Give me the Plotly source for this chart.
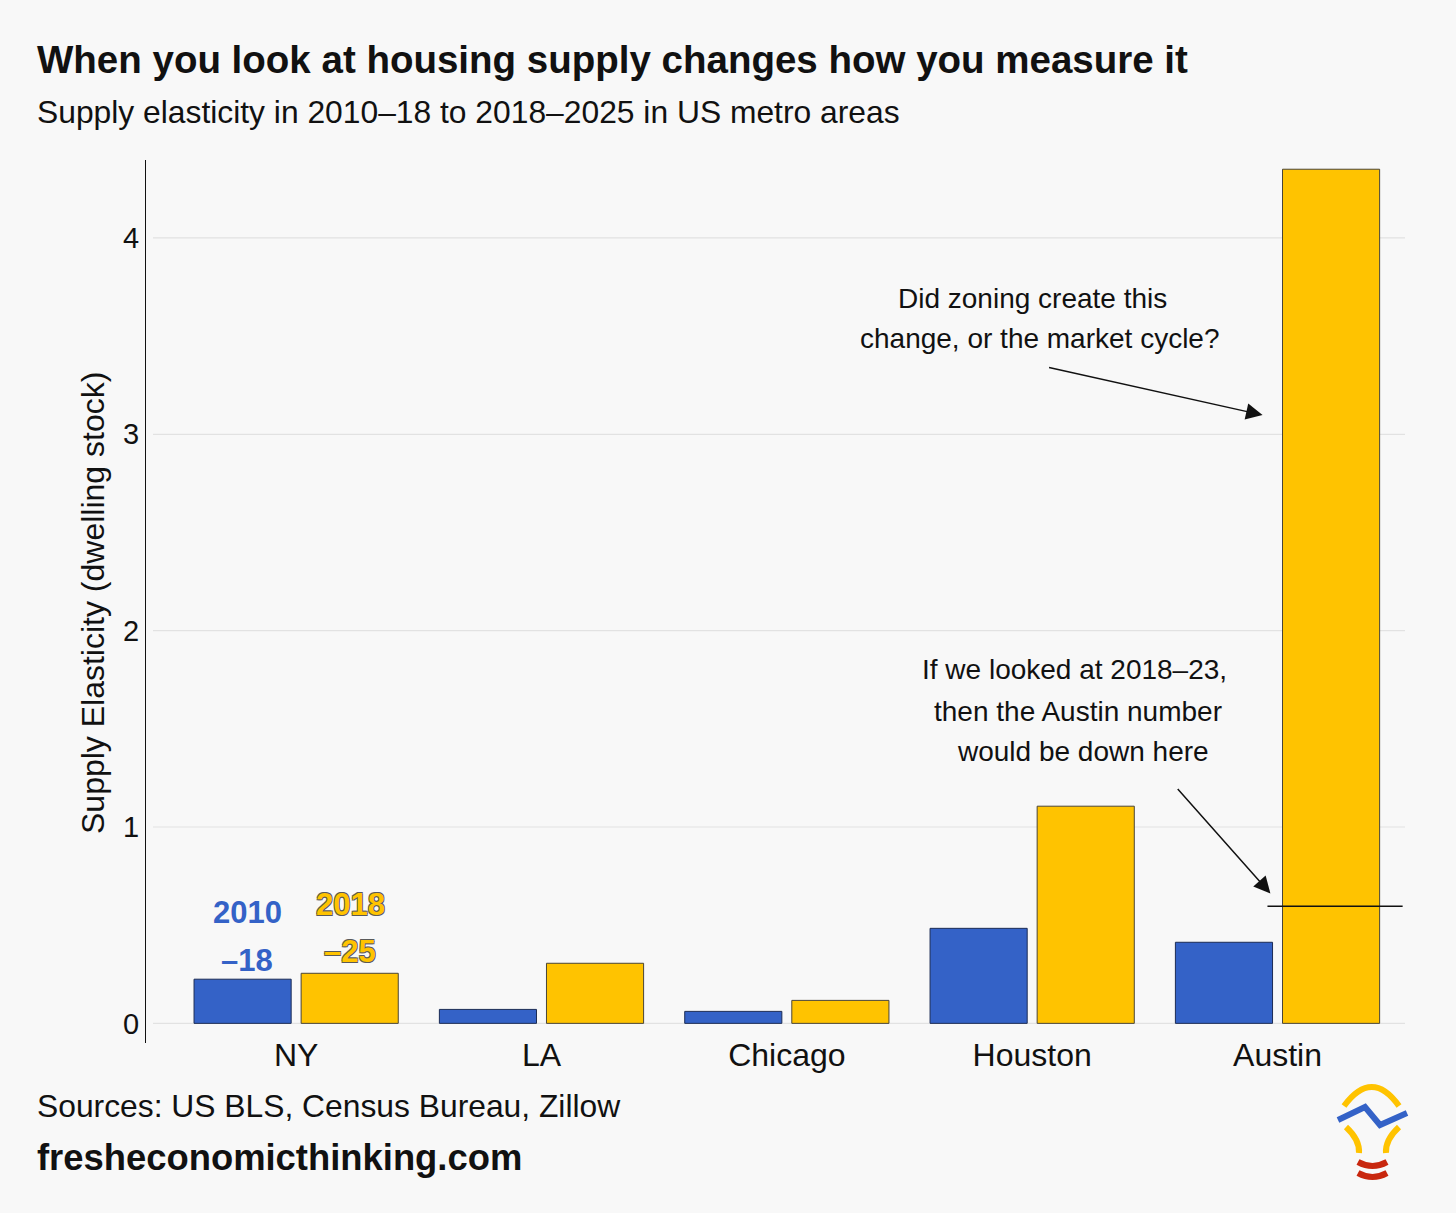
import plotly.graph_objects as go

# ---- data ----
cities = ["NY", "LA", "Chicago", "Houston", "Austin"]
elasticity_2010_18 = [0.225, 0.071, 0.061, 0.484, 0.413]
elasticity_2018_25 = [0.255, 0.306, 0.117, 1.106, 4.35]
austin_2018_23 = 0.596
y_ticks = [0, 1, 2, 3, 4]

BLUE = "#3462C7"
YELLOW = "#FFC300"
BG = "#F8F8F8"
FONT = "Liberation Sans, Arial, Helvetica, sans-serif"

W, H = 1456, 1213
L, R, T, B = 146, 1410, 160, 1043  # plot area in pixels


def px(xp):
    return (xp - L) / (R - L)


def py(yp):
    return (B - yp) / (B - T)


fig = go.Figure()
fig.add_trace(go.Bar(
    x=cities, y=elasticity_2010_18, name="2010–18",
    marker=dict(color=BLUE, line=dict(color="#1c2c55", width=1)),
))
fig.add_trace(go.Bar(
    x=cities, y=elasticity_2018_25, name="2018–25",
    marker=dict(color=YELLOW, line=dict(color="#4a4536", width=1)),
))

shapes = []
# gridlines
for v in y_ticks:
    shapes.append(dict(type="line", xref="paper", yref="y", x0=px(153), x1=px(1405),
                       y0=v, y1=v, line=dict(color="#E2E2E2", width=1.2), layer="below"))
# Austin 2018-23 marker line
shapes.append(dict(type="line", xref="x", yref="y", x0=3.959, x1=4.51,
                   y0=austin_2018_23, y1=austin_2018_23,
                   line=dict(color="#111", width=1.5), layer="above"))

# logo (lightbulb)
logo = [
    ("M {} {} Q {} {} {} {}".format(px(1344), py(1106), px(1372), py(1068), px(1399), py(1106)), YELLOW, 6),
    ("M {} {} Q {} {} {} {}".format(px(1346), py(1127), px(1360), py(1140), px(1359), py(1153)), YELLOW, 6),
    ("M {} {} Q {} {} {} {}".format(px(1399), py(1127), px(1385), py(1140), px(1386), py(1153)), YELLOW, 6),
    ("M {} {} L {} {} L {} {} L {} {}".format(px(1338), py(1120), px(1365), py(1107),
                                             px(1380), py(1125), px(1407), py(1113)), BLUE, 6),
    ("M {} {} Q {} {} {} {}".format(px(1358), py(1162), px(1372.5), py(1170), px(1387), py(1162)), "#C8270E", 6),
    ("M {} {} Q {} {} {} {}".format(px(1358), py(1173), px(1372.5), py(1181), px(1387), py(1173)), "#C8270E", 6),
]
for path, col, w in logo:
    shapes.append(dict(type="path", xref="paper", yref="paper", path=path,
                       line=dict(color=col, width=w), layer="above"))

ann = []


def text(t, x, y, size, color="#111", xanchor="left", bold=False, xref="paper", yref="paper",
         shadow=None, angle=0):
    f = dict(family=FONT, size=size, color=color)
    if bold:
        f["weight"] = 700
    if shadow:
        f["shadow"] = shadow
    ann.append(dict(text=t, x=x, y=y, xref=xref, yref=yref, xanchor=xanchor, yanchor="middle",
                    showarrow=False, font=f, textangle=angle))


text("When you look at housing supply changes how you measure it", px(35), py(60), 38.5, bold=True)
text("Supply elasticity in 2010–18 to 2018–2025 in US metro areas", px(35), py(112), 31.8)
text("Sources: US BLS, Census Bureau, Zillow", px(35), py(1106), 31.8)
text("fresheconomicthinking.com", px(35), py(1157), 36.4, bold=True)
text("Supply Elasticity (dwelling stock)", px(93), py(603), 32, xanchor="center", angle=-90)

# series labels
text("2010", -0.2, 0.567, 31, color=BLUE, xanchor="center", bold=True, xref="x", yref="y")
text("–18", -0.2, 0.322, 31, color=BLUE, xanchor="center", bold=True, xref="x", yref="y")
outline = ("-0.7px -0.7px 0 #5a5a5a, 0.7px -0.7px 0 #5a5a5a, "
           "-0.7px 0.7px 0 #5a5a5a, 0.7px 0.7px 0 #5a5a5a")
text("2018", 0.22, 0.606, 31, color=YELLOW, xanchor="center", bold=True, xref="x", yref="y", shadow=outline)
text("–25", 0.22, 0.367, 31, color=YELLOW, xanchor="center", bold=True, xref="x", yref="y", shadow=outline)

# callouts
text("Did zoning create this", px(1032), py(298), 28, xanchor="center")
text("change, or the market cycle?", px(1040), py(338), 28, xanchor="center")
text("If we looked at 2018–23,", px(1074), py(669), 28, xanchor="center")
text("then the Austin number", px(1078), py(711), 28, xanchor="center")
text("would be down here", px(1083), py(751), 28, xanchor="center")

ann.append(dict(x=3.939, y=3.098, xref="x", yref="y", ax=-215, ay=-48,
                text="", showarrow=True, arrowhead=2, arrowsize=2.2, arrowwidth=1.5, arrowcolor="#111"))
ann.append(dict(x=3.971, y=0.662, xref="x", yref="y", ax=-94, ay=-106,
                text="", showarrow=True, arrowhead=2, arrowsize=2.2, arrowwidth=1.5, arrowcolor="#111"))

fig.update_layout(
    width=W, height=H,
    margin=dict(l=L, r=W - R, t=T, b=H - B, pad=0),
    paper_bgcolor=BG, plot_bgcolor=BG,
    barmode="group", bargap=0.127, bargroupgap=0.093,
    showlegend=False,
    font=dict(family=FONT, color="#111"),
    shapes=shapes, annotations=ann,
)
fig.update_xaxes(type="category", categoryorder="array", categoryarray=cities,
                 range=[-0.612, 4.54], showgrid=False, showline=False, zeroline=False,
                 ticks="", ticklabelstandoff=-10,
                 tickfont=dict(size=32, family=FONT, color="#111"))
fig.update_yaxes(range=[-0.1, 4.397], tickvals=y_ticks, showgrid=False, zeroline=False,
                 showline=True, linecolor="#111", linewidth=1.2, ticks="",
                 tickfont=dict(size=29, family=FONT, color="#111"))

fig.write_html("out.html", config={"displayModeBar": False},
               post_script="document.body.style.margin='0';document.body.style.background='%s';" % BG)
